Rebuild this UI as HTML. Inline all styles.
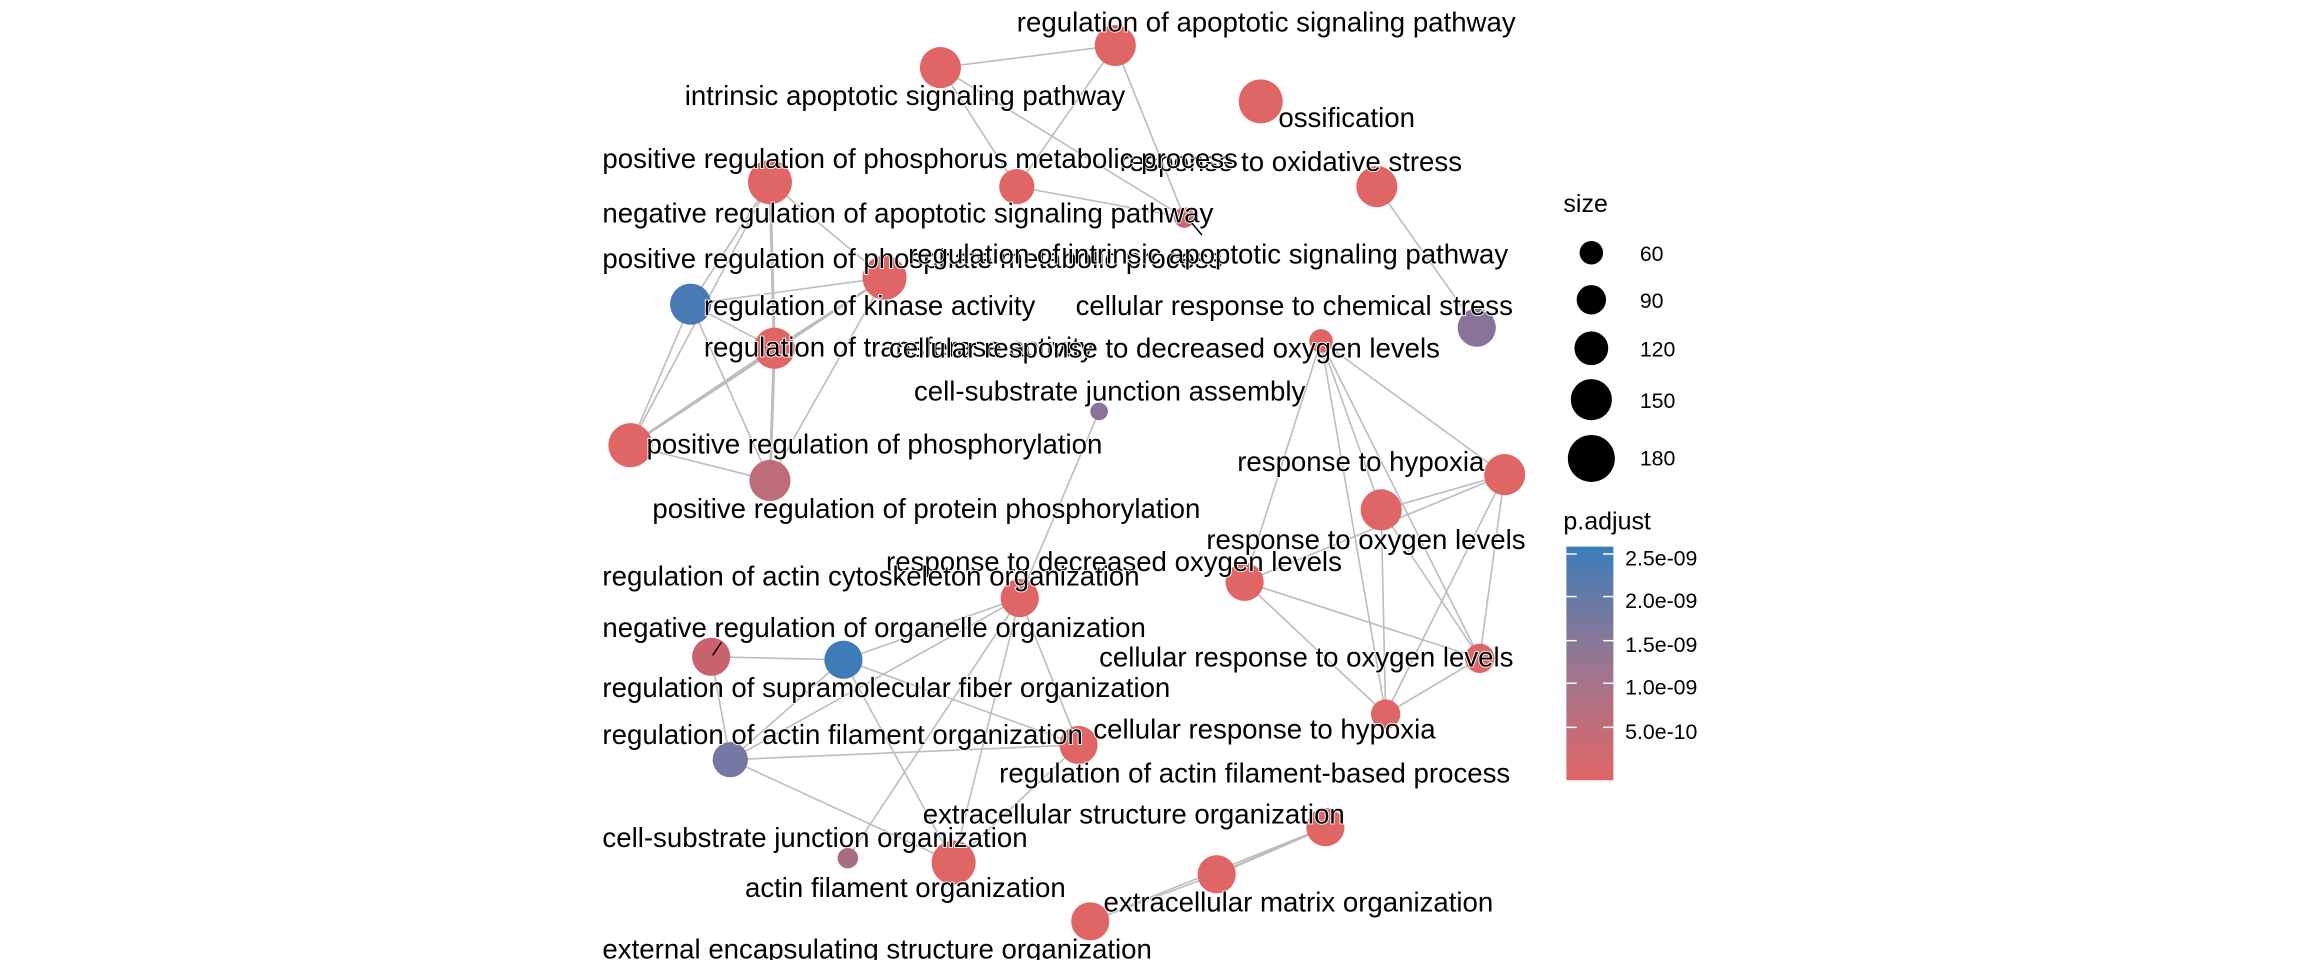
<!DOCTYPE html>
<html><head><meta charset="utf-8"><style>
html,body{margin:0;padding:0;background:#fff;}
svg{display:block;}
text{font-family:"Liberation Sans",sans-serif;}
.l{font-size:18.8px;fill:#000;dominant-baseline:central;stroke:#fff;stroke-width:1.2px;paint-order:stroke;}
.g{font-size:14.5px;fill:#000;dominant-baseline:central;}
</style></head><body>
<svg width="2304" height="960" viewBox="0 0 1568 653.33" xmlns="http://www.w3.org/2000/svg">
<defs><linearGradient id="cb" x1="0" y1="0" x2="0" y2="1">
<stop offset="0" stop-color="#3a7dba"/><stop offset="0.5" stop-color="#9a7690"/><stop offset="1" stop-color="#e06666"/></linearGradient></defs>
<g stroke="#bdbdbd" stroke-width="1.1" fill="none">
<line x1="759" y1="31" x2="640" y2="46"/><line x1="759" y1="31" x2="806" y2="148"/><line x1="759" y1="31" x2="692" y2="127"/>
<line x1="640" y1="46" x2="806" y2="148"/><line x1="640" y1="46" x2="692" y2="127"/><line x1="692" y1="127" x2="806" y2="148"/>
<line x1="937" y1="127" x2="1005" y2="223"/>
<line x1="524" y1="124" x2="470" y2="207"/><line x1="524" y1="124" x2="527" y2="237" stroke-width="2"/><line x1="524" y1="124" x2="602" y2="189"/><line x1="524" y1="124" x2="429" y2="303"/>
<line x1="602" y1="189" x2="470" y2="207"/><line x1="602" y1="189" x2="527" y2="237"/><line x1="602" y1="189" x2="429" y2="303" stroke-width="1.8"/><line x1="602" y1="189" x2="524" y2="327"/>
<line x1="470" y1="207" x2="527" y2="237"/><line x1="470" y1="207" x2="429" y2="303"/><line x1="470" y1="207" x2="524" y2="327"/>
<line x1="527" y1="237" x2="429" y2="303" stroke-width="1.8"/><line x1="527" y1="237" x2="524" y2="327" stroke-width="2"/><line x1="429" y1="303" x2="524" y2="327"/>
<line x1="748" y1="280" x2="694" y2="407"/>
<line x1="899" y1="232" x2="1024" y2="323"/><line x1="899" y1="232" x2="940" y2="347"/><line x1="899" y1="232" x2="847" y2="396"/><line x1="899" y1="232" x2="1007" y2="448"/><line x1="899" y1="232" x2="943" y2="486"/>
<line x1="1024" y1="323" x2="940" y2="347"/><line x1="1024" y1="323" x2="847" y2="396"/><line x1="1024" y1="323" x2="1007" y2="448"/><line x1="1024" y1="323" x2="943" y2="486"/>
<line x1="940" y1="347" x2="1007" y2="448"/><line x1="940" y1="347" x2="943" y2="486"/><line x1="847" y1="396" x2="1007" y2="448"/><line x1="847" y1="396" x2="943" y2="486"/><line x1="1007" y1="448" x2="943" y2="486"/>
<line x1="694" y1="407" x2="574" y2="449"/><line x1="694" y1="407" x2="497" y2="517"/><line x1="694" y1="407" x2="734" y2="507"/><line x1="694" y1="407" x2="649" y2="587"/><line x1="694" y1="407" x2="577" y2="584"/>
<line x1="484" y1="447" x2="574" y2="449"/><line x1="484" y1="447" x2="497" y2="517"/><line x1="574" y1="449" x2="497" y2="517"/><line x1="574" y1="449" x2="734" y2="507"/><line x1="574" y1="449" x2="649" y2="587"/>
<line x1="497" y1="517" x2="734" y2="507"/><line x1="497" y1="517" x2="649" y2="587"/><line x1="734" y1="507" x2="649" y2="587"/>
<line x1="902" y1="563" x2="828" y2="595" stroke-width="1.8"/><line x1="902" y1="563" x2="742" y2="627"/><line x1="828" y1="595" x2="742" y2="627"/>
</g>
<g>
<circle cx="759" cy="31" r="14" fill="#e06666"/><circle cx="640" cy="46" r="14" fill="#e06666"/><circle cx="858" cy="69" r="15" fill="#e06666"/>
<circle cx="524" cy="124" r="15" fill="#e06666"/><circle cx="692" cy="127" r="12" fill="#e06666"/><circle cx="806" cy="148" r="7" fill="#d1636e"/>
<circle cx="937" cy="127" r="14" fill="#e06666"/><circle cx="602" cy="189" r="15" fill="#e06666"/><circle cx="470" cy="207" r="14" fill="#4a7ab4"/>
<circle cx="527" cy="237" r="14" fill="#e06666"/><circle cx="1005" cy="223" r="13" fill="#8a7398"/><circle cx="899" cy="232" r="8" fill="#e06666"/>
<circle cx="748" cy="280" r="6" fill="#8a7399"/><circle cx="429" cy="303" r="15" fill="#e06666"/><circle cx="524" cy="327" r="14" fill="#bd6c78"/>
<circle cx="1024" cy="323" r="14" fill="#e06666"/><circle cx="940" cy="347" r="14" fill="#e06666"/><circle cx="847" cy="396" r="13" fill="#e06666"/>
<circle cx="694" cy="407" r="13" fill="#e06666"/><circle cx="484" cy="447" r="13" fill="#c9646f"/><circle cx="574" cy="449" r="13" fill="#3d7cb8"/>
<circle cx="1007" cy="448" r="10" fill="#e06666"/><circle cx="943" cy="486" r="10" fill="#e06666"/><circle cx="497" cy="517" r="12" fill="#7777a6"/>
<circle cx="734" cy="507" r="13" fill="#e06666"/><circle cx="902" cy="563" r="13" fill="#e06666"/><circle cx="828" cy="595" r="13" fill="#e06666"/>
<circle cx="577" cy="584" r="7" fill="#a56e85"/><circle cx="649" cy="587" r="15" fill="#e06666"/><circle cx="742" cy="627" r="13" fill="#e06666"/>
</g>
<line x1="808" y1="148" x2="818" y2="160" stroke="#000" stroke-width="1"/>
<line x1="485" y1="446" x2="491" y2="437" stroke="#000" stroke-width="1"/>
<g>
<text class="l" x="692" y="15">regulation of apoptotic signaling pathway</text>
<text class="l" x="466" y="65">intrinsic apoptotic signaling pathway</text>
<text class="l" x="870" y="80">ossification</text>
<text class="l" x="995" y="110" text-anchor="end">response to oxidative stress</text>
<text class="l" x="410" y="108">positive regulation of phosphorus metabolic process</text>
<text class="l" x="410" y="145">negative regulation of apoptotic signaling pathway</text>
<text class="l" x="410" y="176">positive regulation of phosphate metabolic process</text>
<text class="l" x="618" y="173">regulation of intrinsic apoptotic signaling pathway</text>
<text class="l" x="479" y="208">regulation of kinase activity</text>
<text class="l" x="732" y="208">cellular response to chemical stress</text>
<text class="l" x="479" y="236">regulation of transferase activity</text>
<text class="l" x="605" y="237">cellular response to decreased oxygen levels</text>
<text class="l" x="622" y="266">cell-substrate junction assembly</text>
<text class="l" x="440" y="302">positive regulation of phosphorylation</text>
<text class="l" x="842" y="314">response to hypoxia</text>
<text class="l" x="444" y="346">positive regulation of protein phosphorylation</text>
<text class="l" x="821" y="367">response to oxygen levels</text>
<text class="l" x="603" y="382">response to decreased oxygen levels</text>
<text class="l" x="410" y="392">regulation of actin cytoskeleton organization</text>
<text class="l" x="410" y="427">negative regulation of organelle organization</text>
<text class="l" x="748" y="447">cellular response to oxygen levels</text>
<text class="l" x="410" y="468">regulation of supramolecular fiber organization</text>
<text class="l" x="977" y="496" text-anchor="end">cellular response to hypoxia</text>
<text class="l" x="410" y="500">regulation of actin filament organization</text>
<text class="l" x="680" y="526">regulation of actin filament-based process</text>
<text class="l" x="628" y="554">extracellular structure organization</text>
<text class="l" x="410" y="570">cell-substrate junction organization</text>
<text class="l" x="507" y="604">actin filament organization</text>
<text class="l" x="751" y="614">extracellular matrix organization</text>
<text class="l" x="410" y="646">external encapsulating structure organization</text>
</g>
<g>
<text class="g" x="1064" y="139" style="font-size:17px">size</text>
<circle cx="1083" cy="172" r="8" fill="#000"/><text class="g" x="1116" y="173">60</text>
<circle cx="1083" cy="204" r="10" fill="#000"/><text class="g" x="1116" y="205">90</text>
<circle cx="1083" cy="237" r="11.5" fill="#000"/><text class="g" x="1116" y="238">120</text>
<circle cx="1083" cy="272" r="14" fill="#000"/><text class="g" x="1116" y="273">150</text>
<circle cx="1083" cy="312" r="16" fill="#000"/><text class="g" x="1116" y="312">180</text>
<text class="g" x="1064" y="355" style="font-size:17px">p.adjust</text>
<rect x="1066" y="372" width="32" height="159" fill="url(#cb)"/>
<g stroke="#fff" stroke-width="1">
<line x1="1066" y1="377" x2="1073" y2="377"/><line x1="1091" y1="377" x2="1098" y2="377"/>
<line x1="1066" y1="406" x2="1073" y2="406"/><line x1="1091" y1="406" x2="1098" y2="406"/>
<line x1="1066" y1="436" x2="1073" y2="436"/><line x1="1091" y1="436" x2="1098" y2="436"/>
<line x1="1066" y1="465" x2="1073" y2="465"/><line x1="1091" y1="465" x2="1098" y2="465"/>
<line x1="1066" y1="495" x2="1073" y2="495"/><line x1="1091" y1="495" x2="1098" y2="495"/>
</g>
<text class="g" x="1106" y="380">2.5e-09</text>
<text class="g" x="1106" y="409">2.0e-09</text>
<text class="g" x="1106" y="439">1.5e-09</text>
<text class="g" x="1106" y="468">1.0e-09</text>
<text class="g" x="1106" y="498">5.0e-10</text>
</g>
</svg>
</body></html>
